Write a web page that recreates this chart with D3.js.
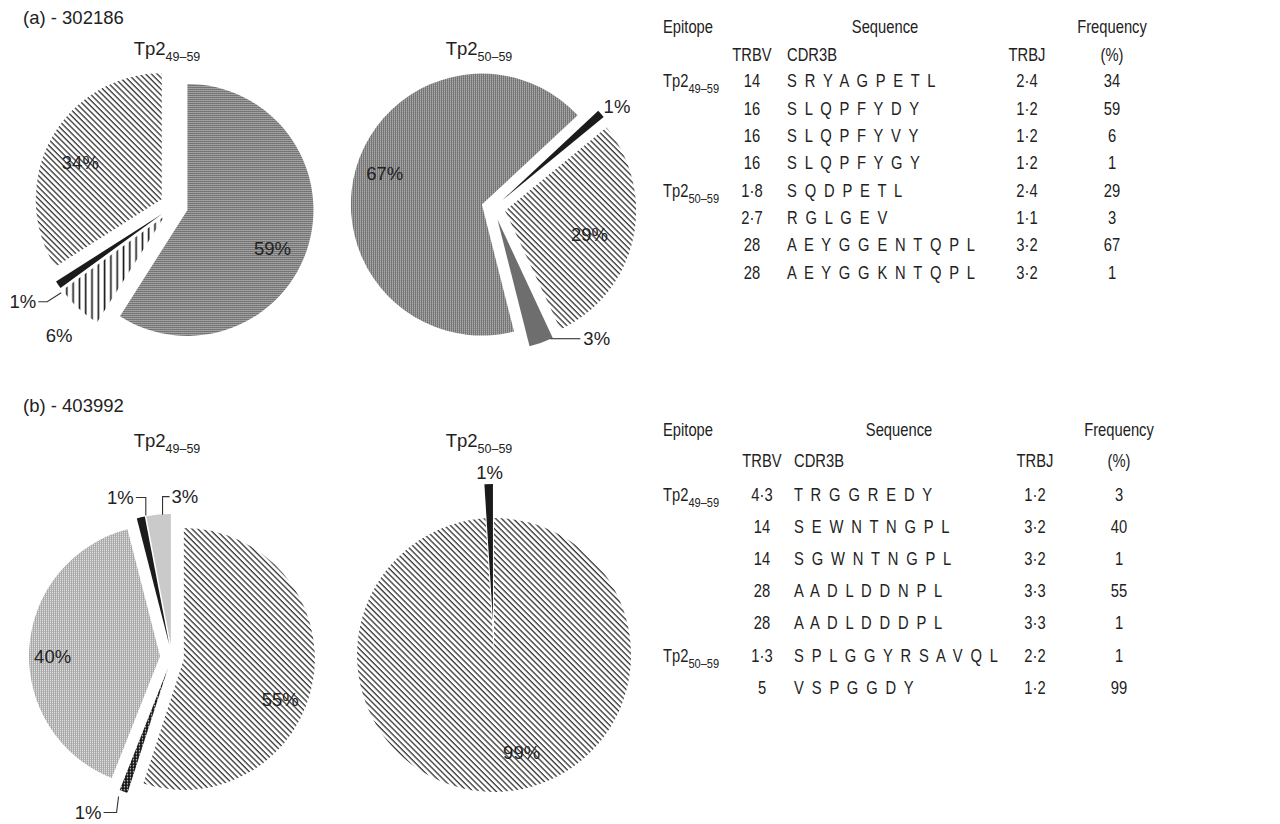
<!DOCTYPE html>
<html>
<head>
<meta charset="utf-8">
<script src="https://cdn.jsdelivr.net/npm/d3@7"></script>
<style>
  body { margin: 0; background: #fff; }
  svg { display: block; }
</style>
</head>
<body>
<svg id="chart" width="1280" height="824"></svg>
<script>
// ---------- Data ----------
const panelTitles = ["(a) - 302186", "(b) - 403992"];

// Panel (a): TCR beta clonotypes, animal 302186
const aEpitope = ["49–59", "49–59", "49–59", "49–59", "50–59", "50–59", "50–59", "50–59"];
const aTRBV    = ["14", "16", "16", "16", "1·8", "2·7", "28", "28"];
const aCDR3B   = ["SRYAGPETL", "SLQPFYDY", "SLQPFYVY", "SLQPFYGY", "SQDPETL", "RGLGEV", "AEYGGENTQPL", "AEYGGKNTQPL"];
const aTRBJ    = ["2·4", "1·2", "1·2", "1·2", "2·4", "1·1", "3·2", "3·2"];
const aFreq    = [34, 59, 6, 1, 29, 3, 67, 1];

// Panel (b): TCR beta clonotypes, animal 403992
const bEpitope = ["49–59", "49–59", "49–59", "49–59", "49–59", "50–59", "50–59"];
const bTRBV    = ["4·3", "14", "14", "28", "28", "1·3", "5"];
const bCDR3B   = ["TRGGREDY", "SEWNTNGPL", "SGWNTNGPL", "AADLDDNPL", "AADLDDDPL", "SPLGGYRSAVQL", "VSPGGDY"];
const bTRBJ    = ["1·2", "3·2", "3·2", "3·3", "3·3", "2·2", "1·2"];
const bFreq    = [3, 40, 1, 55, 1, 1, 99];

// Column headers
const headTop = ["Epitope", "Sequence", "Frequency"];
const headSub = ["TRBV", "CDR3B", "TRBJ", "(%)"];

// Slice fill per clonotype row
const aFills = ["hatch", "checkDark", "vlines", "black", "hatch", "grayMid", "checkDark", "black"];
const bFills = ["grayLight", "checkLight", "black", "hatch", "dotted", "black", "hatch"];

// ---------- Setup ----------
const svg = d3.select("#chart");
const FONT = "'Liberation Sans', Arial, Helvetica, sans-serif";
const INK = "#222";
const NARROW_SCALE = 0.82;   // condensed face for the table

const defs = svg.append("defs");
function pattern(id, w, h, transform) {
  const p = defs.append("pattern").attr("id", id)
    .attr("patternUnits", "userSpaceOnUse").attr("width", w).attr("height", h);
  if (transform) p.attr("patternTransform", transform);
  return p;
}
// diagonal hatch running down-right
{
  const s = 4.1;
  const p = pattern("hatch", s, s, "rotate(45)");
  p.append("rect").attr("width", s).attr("height", s).attr("fill", "#fff");
  p.append("rect").attr("y", 0).attr("width", s).attr("height", 1.35).attr("fill", "#3a3a3a");
}
// fine dark checker
{
  const p = pattern("checkDark", 2, 2);
  p.append("rect").attr("width", 2).attr("height", 2).attr("fill", "#6f6f6f");
  p.append("rect").attr("width", 1).attr("height", 1).attr("fill", "#dcdcdc");
}
// fine light checker
{
  const p = pattern("checkLight", 2, 2);
  p.append("rect").attr("width", 2).attr("height", 2).attr("fill", "#a9a9a9");
  p.append("rect").attr("width", 1).attr("height", 1).attr("fill", "#f2f2f2");
}
// vertical lines
{
  const p = pattern("vlines", 6.3, 6.3);
  p.append("rect").attr("width", 6.3).attr("height", 6.3).attr("fill", "#fff");
  p.append("rect").attr("x", 2.4).attr("width", 1.6).attr("height", 6.3).attr("fill", "#151515");
}
// black with white dots
{
  const p = pattern("dotted", 3, 3);
  p.append("rect").attr("width", 3).attr("height", 3).attr("fill", "#151515");
  p.append("circle").attr("cx", 1.5).attr("cy", 1.5).attr("r", 0.75).attr("fill", "#eee");
}
const fillOf = {
  hatch: "url(#hatch)", checkDark: "url(#checkDark)", checkLight: "url(#checkLight)",
  vlines: "url(#vlines)", dotted: "url(#dotted)",
  black: "#1b1b1b", grayMid: "#6e6e6e", grayLight: "#cacaca"
};

function label(g, x, y, str, anchor, size) {
  return g.append("text").attr("x", x).attr("y", y)
    .attr("text-anchor", anchor || "start")
    .attr("font-family", FONT)
    .attr("font-size", size || 18.5)
    .attr("fill", INK).text(str);
}
// horizontally condensed text placed at (x, y)
function narrow(g, x, y, str, anchor, size) {
  return g.append("g").attr("transform", `translate(${x},${y}) scale(${NARROW_SCALE},1)`)
    .append("text").attr("text-anchor", anchor || "start")
    .attr("font-family", FONT).attr("font-size", size)
    .attr("fill", INK).text(str);
}
function epitopeText(t, sub, size, subSize) {
  t.append("tspan").text("Tp2");
  t.append("tspan").attr("dy", size * 0.33).attr("font-size", subSize).text(sub);
  return t;
}

// ---------- Panel titles ----------
label(svg, 23, 24, panelTitles[0], "start", 18.5);
label(svg, 23, 412, panelTitles[1], "start", 18.5);

// ---------- Pies ----------
const pies = [
  { freq: aFreq, fills: aFills, order: [1, 2, 3, 0], startDeg: 0,
    cx: 174, cy: 206, r: 126, explode: [14, 14, 14, 14],
    title: { x: 167, y: 55, sub: "49–59" },
    labels: [
      { da: 8, rf: 0.74 },
      { tx: -19, ty: 27, anchor: "middle" },
      { leader: [[3, 8], [-11, 17], [-20, 17]], tx: -22, ty: 17, anchor: "end" },
      { da: -4.3, rf: 0.71 }
    ] },
  { freq: aFreq, fills: aFills, order: [4, 5, 6, 7], startDeg: 50.6,
    cx: 493.4, cy: 208, r: 131, explode: [12, 12, 12, 12],
    title: { x: 479, y: 55, sub: "50–59" },
    labels: [
      { da: 3, rf: 0.67 },
      { leader: [[9, -4], [39, -4]], tx: 42, ty: -4, anchor: "start" },
      { da: 1.6, rf: 0.78 },
      { tx: 16, ty: -7, anchor: "middle" }
    ] },
  { freq: bFreq, fills: bFills, order: [3, 4, 1, 2, 0], startDeg: 0,
    cx: 172, cy: 657, r: 131, explode: [12, 12, 12, 12, 12],
    title: { x: 167, y: 447, sub: "49–59" },
    labels: [
      { da: 14, rf: 0.8 },
      { leader: [[-5, 5], [-7, 21], [-20, 21]], tx: -22, ty: 21, anchor: "end" },
      { da: -3.6, rf: 0.82 },
      { leader: [[5, -2], [5, -20], [-5, -20]], tx: -7, ty: -20, anchor: "end" },
      { leader: [[4, 0], [4, -18], [11, -18]], tx: 13, ty: -18, anchor: "start" }
    ] },
  { freq: bFreq, fills: bFills, order: [6, 5], startDeg: 0,
    cx: 494, cy: 654, r: 137, explode: [1, 33],
    title: { x: 479, y: 447, sub: "50–59" },
    labels: [
      { da: -14, rf: 0.74 },
      { tx: 1, ty: -12, anchor: "middle" }
    ] }
];

const rad = Math.PI / 180;
pies.forEach(p => {
  epitopeText(label(svg, p.title.x, p.title.y, "", "middle", 18.5), p.title.sub, 18.5, 12.5);

  const data = p.order.map(i => ({ v: p.freq[i], fill: p.fills[i] }));
  const start = p.startDeg * rad;
  const arcs = d3.pie().sort(null).value(d => d.v)
    .startAngle(start).endAngle(start + 2 * Math.PI)(data);
  const arc = d3.arc().innerRadius(0).outerRadius(p.r);
  const g = svg.append("g").attr("transform", `translate(${p.cx},${p.cy})`);

  arcs.forEach((a, k) => {
    const mid = (a.startAngle + a.endAngle) / 2;
    const e = p.explode[k];
    const vx = e * Math.sin(mid), vy = -e * Math.cos(mid);
    g.append("path").attr("d", arc(a))
      .attr("transform", `translate(${vx},${vy})`)
      .attr("fill", fillOf[a.data.fill]);

    const L = p.labels[k];
    const str = a.data.v + "%";
    if (L.rf !== undefined) {
      const ang = mid + L.da * rad;
      const x = vx + L.rf * p.r * Math.sin(ang);
      const y = vy - L.rf * p.r * Math.cos(ang);
      label(g, x, y, str, "middle", 18.5).attr("dy", "0.35em");
    } else {
      const ox = vx + p.r * Math.sin(mid), oy = vy - p.r * Math.cos(mid);
      if (L.leader) {
        g.append("polyline")
          .attr("points", L.leader.map(([dx, dy]) => `${ox + dx},${oy + dy}`).join(" "))
          .attr("fill", "none").attr("stroke", "#333").attr("stroke-width", 1.1);
      }
      label(g, ox + L.tx, oy + L.ty, str, L.anchor, 18.5).attr("dy", "0.35em");
    }
  });
});

// ---------- Tables ----------
const tables = [
  { epi: aEpitope, trbv: aTRBV, cdr: aCDR3B, trbj: aTRBJ, freq: aFreq,
    yHead: 27, ySub: 55, y0: 81, step: 27.3,
    xEpi: 663, xSeq: 885, xFreq: 1112, xTRBV: 752, xCDR: 787, xTRBJ: 1027 },
  { epi: bEpitope, trbv: bTRBV, cdr: bCDR3B, trbj: bTRBJ, freq: bFreq,
    yHead: 430, ySub: 461, y0: 494.3, step: 32.17,
    xEpi: 663, xSeq: 899, xFreq: 1119, xTRBV: 762, xCDR: 794, xTRBJ: 1035 }
];
const TS = 18;
tables.forEach(t => {
  const g = svg.append("g");
  const cy = y => y + TS * 0.36;
  narrow(g, t.xEpi, cy(t.yHead), headTop[0], "start", TS);
  narrow(g, t.xSeq, cy(t.yHead), headTop[1], "middle", TS);
  narrow(g, t.xFreq, cy(t.yHead), headTop[2], "middle", TS);
  narrow(g, t.xTRBV, cy(t.ySub), headSub[0], "middle", TS);
  narrow(g, t.xCDR, cy(t.ySub), headSub[1], "start", TS);
  narrow(g, t.xTRBJ, cy(t.ySub), headSub[2], "middle", TS);
  narrow(g, t.xFreq, cy(t.ySub), headSub[3], "middle", TS);

  t.freq.forEach((f, i) => {
    const y = cy(t.y0 + i * t.step);
    if (i === 0 || t.epi[i] !== t.epi[i - 1]) {
      epitopeText(narrow(g, t.xEpi, y, "", "start", TS), t.epi[i], TS, 13.5);
    }
    narrow(g, t.xTRBV, y, t.trbv[i], "middle", TS);
    narrow(g, t.xCDR, y, t.cdr[i].split("").join(" "), "start", TS)
      .attr("letter-spacing", 2.3);
    narrow(g, t.xTRBJ, y, t.trbj[i], "middle", TS);
    narrow(g, t.xFreq, y, String(f), "middle", TS);
  });
});
</script>
</body>
</html>
